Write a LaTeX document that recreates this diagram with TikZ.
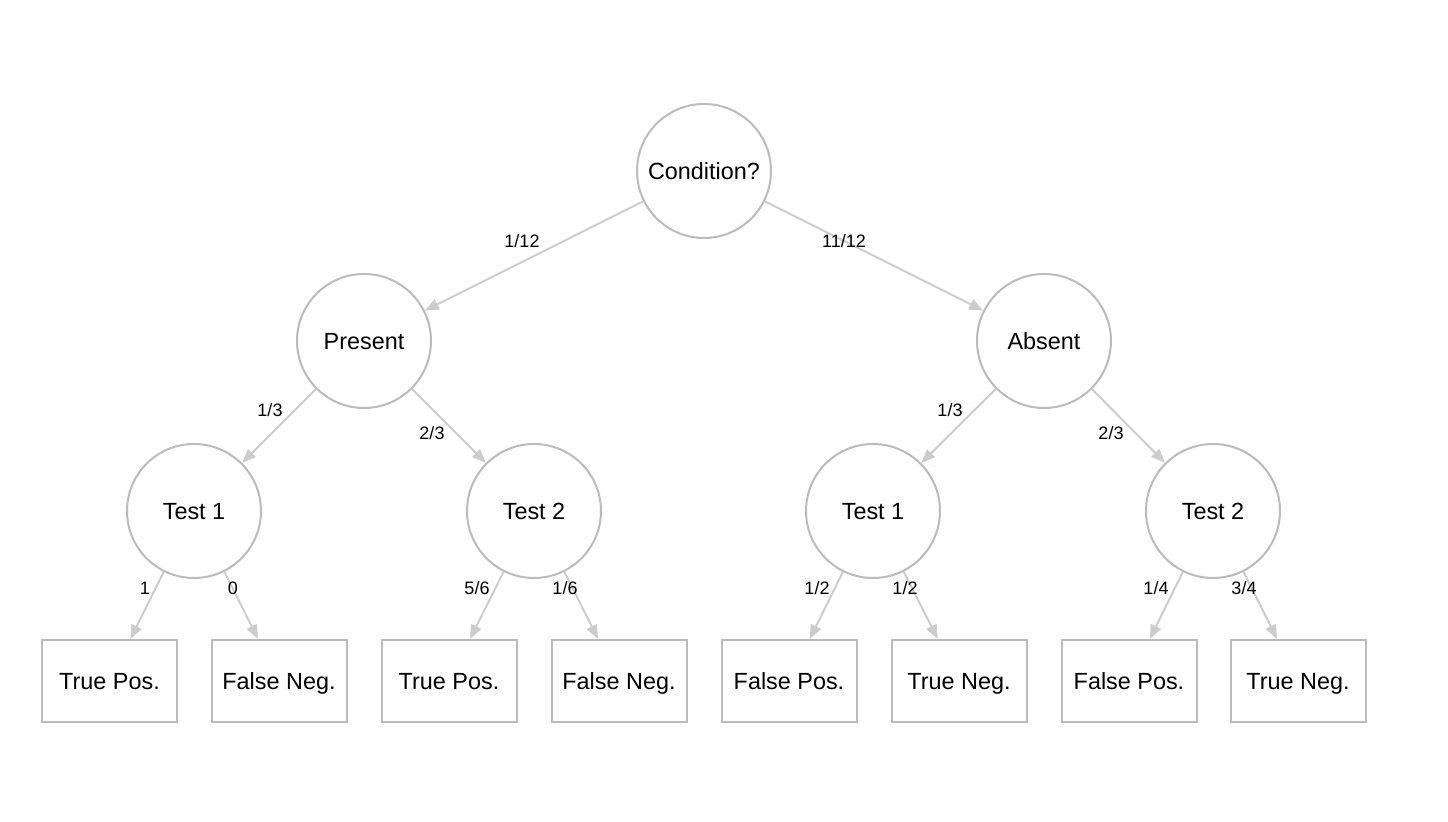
\documentclass[tikz,border=0pt]{standalone}
\usepackage{fontspec}
\setmainfont{Liberation Sans}
\usetikzlibrary{arrows.meta}
\definecolor{ringgray}{HTML}{BBBBBB}
\definecolor{edgegray}{HTML}{CCCCCC}
\begin{document}
\begin{tikzpicture}[x=0.5pt,y=-0.5pt,
		chance/.style={circle,draw=ringgray,line width=1pt,minimum size=67pt,inner sep=0pt,text height=9.4pt,text depth=1pt,font=\fontsize{11.7}{14}\selectfont},
		outcome/.style={rectangle,draw=ringgray,line width=1pt,minimum width=67.5pt,minimum height=41pt,inner sep=0pt,text height=9.4pt,text depth=1pt,font=\fontsize{11.7}{14}\selectfont},
		prob/.style={inner sep=0pt,font=\fontsize{9}{11}\selectfont},
		branch/.style={draw=edgegray,line width=1pt,-{Triangle[length=7pt,width=5.5pt]}}]
		\useasboundingbox (0,0) rectangle (1448,822);
		% decision nodes
		\node[chance] (cond) at (704,171) {Condition?};
		\node[chance] (present) at (364,341) {Present};
		\node[chance] (absent) at (1044,341) {Absent};
		\node[chance] (ptest1) at (194,511) {Test 1};
		\node[chance] (ptest2) at (534,511) {Test 2};
		\node[chance] (atest1) at (873,511) {Test 1};
		\node[chance] (atest2) at (1213,511) {Test 2};
		% leaves
		\node[outcome] (tp1) at (109.5,681) {True Pos.};
		\node[outcome] (fn1) at (279,681) {False Neg.};
		\node[outcome] (tp2) at (449,681) {True Pos.};
		\node[outcome] (fn2) at (619,681) {False Neg.};
		\node[outcome] (fp1) at (789,681) {False Pos.};
		\node[outcome] (tn1) at (959,681) {True Neg.};
		\node[outcome] (fp2) at (1129,681) {False Pos.};
		\node[outcome] (tn2) at (1298,681) {True Neg.};
		% branches
		\draw[branch] (cond) -- (present);
		\draw[branch] (cond) -- (absent);
		\draw[branch] (present) -- (ptest1);
		\draw[branch] (present) -- (ptest2);
		\draw[branch] (absent) -- (atest1);
		\draw[branch] (absent) -- (atest2);
		\draw[branch] (ptest1) -- (tp1);
		\draw[branch] (ptest1) -- (fn1);
		\draw[branch] (ptest2) -- (tp2);
		\draw[branch] (ptest2) -- (fn2);
		\draw[branch] (atest1) -- (fp1);
		\draw[branch] (atest1) -- (tn1);
		\draw[branch] (atest2) -- (fp2);
		\draw[branch] (atest2) -- (tn2);
		% probabilities
		\node[prob] (p-present) at (522,241) {1/12};
		\node[prob] (p-absent) at (844,241) {11/12};
		\node[prob] (p-pt1) at (270,410) {1/3};
		\node[prob] (p-pt2) at (432,433) {2/3};
		\node[prob] (p-at1) at (950,410) {1/3};
		\node[prob] (p-at2) at (1111,433) {2/3};
		\node[prob] (p-tp1) at (145,588) {1};
		\node[prob] (p-fn1) at (233,588) {0};
		\node[prob] (p-tp2) at (477,588) {5/6};
		\node[prob] (p-fn2) at (565,588) {1/6};
		\node[prob] (p-fp1) at (817,588) {1/2};
		\node[prob] (p-tn1) at (905,588) {1/2};
		\node[prob] (p-fp2) at (1156,588) {1/4};
		\node[prob] (p-tn2) at (1244,588) {3/4};
	\end{tikzpicture}
\end{document}
